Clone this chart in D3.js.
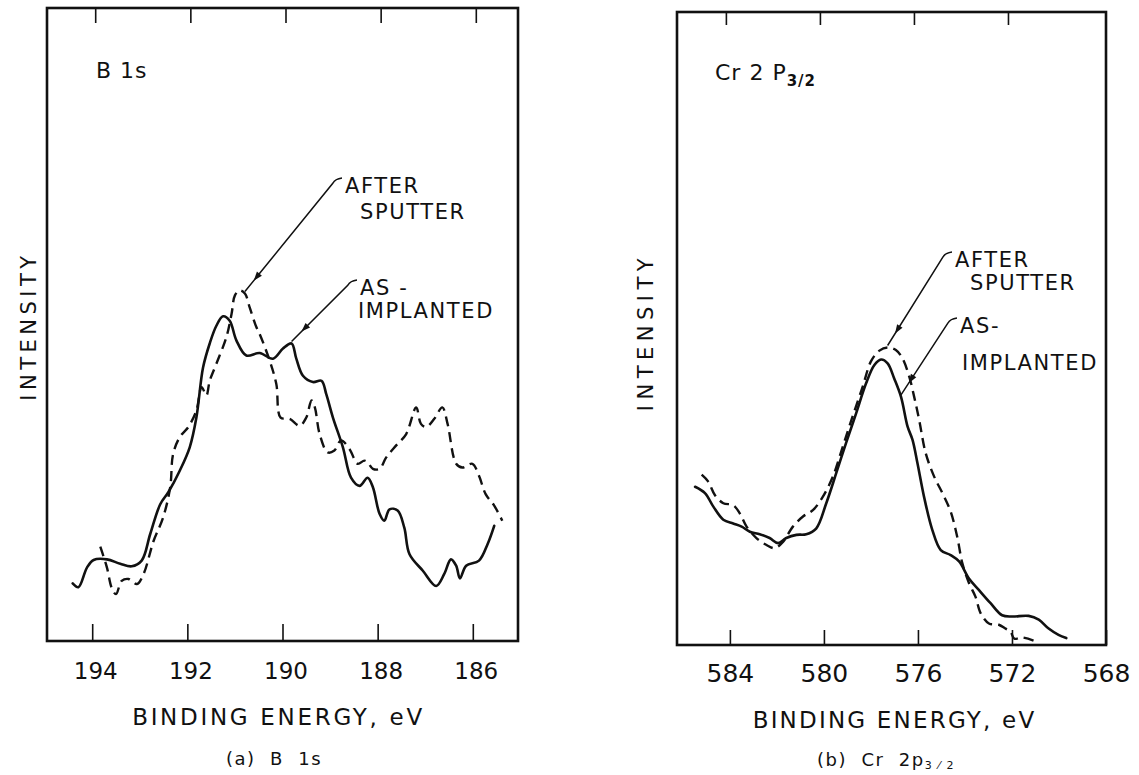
<!DOCTYPE html>
<html>
<head>
<meta charset="utf-8">
<script src="https://cdn.jsdelivr.net/npm/d3@7"></script>
<style>
    body { margin: 0; background: #fff; }
    svg { display: block; }
    text { font-family: "DejaVu Sans", sans-serif; fill: #111; white-space: pre; }
</style>
</head>
<body>
<svg id="chart" width="1139" height="775"></svg>
<script>

// spectra: [binding energy (eV), intensity (arb. units)]
const b1sAsImplanted = [
    [194.41, 9.1], [194.29, 8.5], [194.11, 11.6], [193.97, 12.8], [193.69, 12.9],
    [193.41, 12.2], [193.17, 11.8], [192.96, 12.7], [192.78, 16.9], [192.57, 21.6],
    [192.40, 23.5], [192.16, 26.9], [191.95, 30.6], [191.81, 35.3], [191.67, 43.2],
    [191.53, 47.0], [191.39, 49.8], [191.25, 51.3], [191.11, 50.6], [190.97, 47.5],
    [190.76, 45.1], [190.48, 45.5], [190.20, 44.6], [189.99, 46.2], [189.81, 47.0],
    [189.71, 44.6], [189.57, 41.9], [189.36, 40.9], [189.18, 41.1], [189.08, 39.0],
    [188.94, 35.3], [188.73, 30.6], [188.56, 25.8], [188.38, 24.5], [188.21, 25.8],
    [188.10, 24.3], [187.96, 20.1], [187.86, 19.0], [187.75, 20.8], [187.58, 20.6],
    [187.44, 17.9], [187.33, 13.7], [187.05, 11.1], [186.77, 8.7], [186.60, 10.6],
    [186.46, 12.9], [186.35, 11.9], [186.27, 9.9], [186.14, 11.9], [185.87, 12.7],
    [185.69, 15.3], [185.55, 18.2]
];

const b1sAfterSputter = [
    [193.83, 14.9], [193.69, 11.6], [193.59, 8.4], [193.50, 7.4], [193.38, 9.5],
    [193.24, 9.8], [193.06, 9.0], [192.92, 10.6], [192.71, 15.8], [192.51, 19.5],
    [192.36, 24.3], [192.30, 29.5], [192.16, 32.2], [191.98, 33.8], [191.81, 36.4],
    [191.70, 40.1], [191.60, 38.8], [191.53, 41.1], [191.39, 43.8], [191.18, 48.0],
    [191.07, 51.7], [191.00, 54.6], [190.90, 55.4], [190.79, 54.9], [190.69, 52.7],
    [190.55, 49.6], [190.48, 48.5], [190.27, 44.3], [190.13, 40.6], [190.04, 35.3],
    [189.85, 35.1], [189.64, 34.0], [189.50, 35.3], [189.39, 38.0], [189.32, 36.9],
    [189.22, 32.7], [189.05, 29.8], [188.91, 30.1], [188.77, 31.7], [188.59, 30.3],
    [188.42, 28.0], [188.28, 28.5], [188.21, 28.2], [188.10, 27.2], [187.96, 27.2],
    [187.82, 29.0], [187.61, 30.9], [187.40, 32.7], [187.19, 36.9], [187.09, 34.3],
    [186.98, 33.8], [186.81, 35.1], [186.64, 36.9], [186.53, 34.3], [186.35, 28.0],
    [186.22, 27.4], [186.01, 28.0], [185.87, 26.1], [185.73, 23.2], [185.55, 21.4],
    [185.38, 19.0]
];

const cr2pAsImplanted = [
    [585.48, 25.0], [585.06, 24.0], [584.71, 21.9], [584.28, 19.8], [583.86, 19.2],
    [583.50, 18.7], [583.15, 17.9], [582.73, 17.5], [582.31, 16.9], [581.95, 16.1],
    [581.60, 16.9], [581.17, 17.4], [580.75, 17.5], [580.33, 18.4], [579.90, 22.4],
    [579.48, 27.1], [579.06, 31.9], [578.63, 36.6], [578.21, 41.3], [577.86, 44.2],
    [577.57, 45.1], [577.29, 44.5], [577.01, 42.1], [576.72, 39.2], [576.44, 34.5],
    [576.23, 32.4], [576.02, 28.7], [575.74, 23.4], [575.39, 18.2], [575.03, 15.0],
    [574.61, 14.2], [574.25, 13.2], [573.83, 10.5], [573.41, 8.7], [572.91, 6.6],
    [572.42, 4.7], [572.00, 4.5], [571.29, 4.6], [570.86, 4.0], [570.44, 2.6],
    [570.02, 1.6], [569.69, 1.1]
];

const cr2pAfterSputter = [
    [585.20, 26.9], [584.92, 25.8], [584.64, 23.7], [584.28, 22.4], [583.86, 22.1],
    [583.58, 20.8], [583.29, 18.7], [582.87, 16.9], [582.44, 15.8], [582.09, 15.3],
    [581.74, 16.3], [581.32, 18.7], [580.89, 20.3], [580.47, 21.3], [580.05, 23.4],
    [579.62, 26.6], [579.20, 31.3], [578.78, 36.1], [578.35, 40.8], [578.00, 44.8],
    [577.64, 46.5], [577.29, 47.0], [576.94, 46.6], [576.66, 45.3], [576.37, 42.4],
    [576.16, 39.2], [575.95, 35.6], [575.67, 30.3], [575.31, 26.6], [574.96, 24.0],
    [574.61, 21.1], [574.33, 17.1], [574.11, 12.9], [573.83, 9.8], [573.55, 7.6],
    [573.33, 5.0], [572.98, 3.4], [572.56, 3.2], [572.28, 2.6], [572.06, 2.1],
    [571.90, 1.0], [571.58, 1.2], [571.08, 0.7]
];

const b1sTicks = [194, 192, 190, 188, 186];
const cr2pTicks = [584, 580, 576, 572, 568];


class SpectrumPanel {

    constructor(svg, opts) {

        this.svg = svg;
        this.opts = opts;
        this.g = svg.append("g");

    }

    setup() {
        this.computeScales();
        this.drawFrame();
        this.drawAxes();
        this.drawCurves();
        this.drawLabels();
        this.drawAnnotations();
    }

    computeScales() {

        var o = this.opts;

        this.x = d3.scaleLinear().domain(o.energyRange).range([o.left, o.right]);
        this.y = d3.scaleLinear().domain([0, 100]).range([o.bottom, o.top]);

    }

    drawFrame() {

        var o = this.opts;

        this.g.append("rect")
            .attr("x", o.left)
            .attr("y", o.top)
            .attr("width", o.right - o.left)
            .attr("height", o.bottom - o.top)
            .attr("fill", "none")
            .attr("stroke", "#111")
            .attr("stroke-width", 2.6);

    }

    drawAxes() {

        var o = this.opts;

        var bottom = this.g.append("g")
            .attr("transform", "translate(0," + o.bottom + ")")
            .call(d3.axisBottom(this.x)
                .tickValues(o.ticks)
                .tickFormat(d3.format("d"))
                .tickSizeInner(-o.tickLength)
                .tickSizeOuter(0)
                .tickPadding(o.labelPad));

        // top ticks sit a few pixels to the right of the bottom ones
        var top = this.g.append("g")
            .attr("transform", "translate(" + o.topShift + "," + o.top + ")")
            .call(d3.axisTop(this.x)
                .tickValues(o.ticks)
                .tickFormat("")
                .tickSizeInner(-(o.tickLength - 2))
                .tickSizeOuter(0));

        [bottom, top].forEach(function (axis) {
            axis.select(".domain").remove();
            axis.attr("font-family", null).attr("font-size", null);
            axis.selectAll(".tick line")
                .attr("stroke", "#111")
                .attr("stroke-width", 1.6);
        });

        top.selectAll(".tick")
            .filter(function (d) { return d === o.ticks[o.ticks.length - 1] && o.lastTickOnFrame; })
            .remove();

        bottom.selectAll(".tick text")
            .attr("font-size", o.tickFont)
            .attr("dx", o.labelShift)
            .attr("fill", "#111");

    }

    drawCurves() {

        var self = this;

        var line = d3.line()
            .x(function (d) { return self.x(d[0]); })
            .y(function (d) { return self.y(d[1]); })
            .curve(d3.curveCatmullRom.alpha(0.5));

        this.g.append("path")
            .datum(this.opts.asImplanted)
            .attr("d", line)
            .attr("fill", "none")
            .attr("stroke", "#111")
            .attr("stroke-width", 2.6)
            .attr("stroke-linejoin", "round")
            .attr("stroke-linecap", "round");

        this.g.append("path")
            .datum(this.opts.afterSputter)
            .attr("d", line)
            .attr("fill", "none")
            .attr("stroke", "#111")
            .attr("stroke-width", 2.4)
            .attr("stroke-dasharray", "10,6");

    }

    drawLabels() {

        var o = this.opts;
        var mid = (o.left + o.right) / 2;

        // panel title with optional subscript
        var title = this.g.append("text")
            .attr("x", o.titleX)
            .attr("y", o.titleY)
            .attr("font-size", 22)
            .attr("letter-spacing", 1);
        title.append("tspan").text(o.title);
        if (o.titleSub) {
            title.append("tspan")
                .attr("font-size", 15)
                .attr("font-weight", "bold")
                .attr("dy", 6)
                .text(o.titleSub);
        }

        // INTENSITY, rotated
        this.g.append("text")
            .attr("transform", "translate(" + o.yLabelX + "," + o.yLabelY + ") rotate(-90)")
            .attr("text-anchor", "middle")
            .attr("font-size", 21)
            .attr("letter-spacing", o.yLabelSpacing)
            .text("INTENSITY");

        this.g.append("text")
            .attr("x", mid + o.xLabelShift)
            .attr("y", o.xLabelY)
            .attr("text-anchor", "middle")
            .attr("font-size", 23)
            .attr("letter-spacing", o.xLabelSpacing)
            .text("BINDING ENERGY, eV");

        var cap = this.g.append("text")
            .attr("x", o.captionX)
            .attr("y", o.captionY)
            .attr("text-anchor", "middle")
            .attr("font-size", 18)
            .attr("letter-spacing", 1.5);
        cap.append("tspan").text(o.caption);
        if (o.captionSub) {
            cap.append("tspan")
                .attr("font-size", 11)
                .attr("dy", 3)
                .text(o.captionSub);
        }

    }

    drawAnnotations() {

        var self = this;

        this.opts.notes.forEach(function (note) {

            // point on the curve the leader points to
            var series = note.series === "dashed" ? self.opts.afterSputter : self.opts.asImplanted;
            var target = series.reduce(function (a, b) {
                return Math.abs(b[0] - note.energy) < Math.abs(a[0] - note.energy) ? b : a;
            });

            var tx = self.x(target[0]);
            var ty = self.y(target[1]) - 2;

            var hx = note.x - 12;
            var hy = note.y - 10;

            var path = d3.path();
            path.moveTo(note.x - 3, note.y - 15);
            path.quadraticCurveTo(hx + 2, hy - 4, hx, hy);
            path.lineTo(tx, ty);

            self.g.append("path")
                .attr("d", path.toString())
                .attr("fill", "none")
                .attr("stroke", "#111")
                .attr("stroke-width", 1.5);

            // arrow head along the leader
            var dx = tx - hx;
            var dy = ty - hy;
            var len = Math.sqrt(dx * dx + dy * dy);
            var ux = dx / len;
            var uy = dy / len;
            var ax = tx - ux * 14;
            var ay = ty - uy * 14;
            var head = [
                [ax, ay],
                [ax - ux * 9 - uy * 3.2, ay - uy * 9 + ux * 3.2],
                [ax - ux * 9 + uy * 3.2, ay - uy * 9 - ux * 3.2]
            ];

            self.g.append("path")
                .attr("d", d3.line()(head) + "Z")
                .attr("fill", "#111");

            note.lines.forEach(function (txt, i) {
                self.g.append("text")
                    .attr("x", note.x + (i === 0 ? 0 : note.indent))
                    .attr("y", note.y + i * note.gap)
                    .attr("font-size", 21)
                    .attr("letter-spacing", 1.6)
                    .text(txt);
            });

        });

    }

}


var svg = d3.select("#chart");

var left = new SpectrumPanel(svg, {
    left: 47, right: 518, top: 8, bottom: 641,
    energyRange: [194.95, 185.05],
    ticks: b1sTicks,
    tickLength: 17,
    topShift: 3,
    lastTickOnFrame: false,
    labelPad: 22,
    labelShift: 3,
    tickFont: 23,
    asImplanted: b1sAsImplanted,
    afterSputter: b1sAfterSputter,
    title: "B 1s", titleSub: null, titleX: 96, titleY: 78,
    yLabelX: 36, yLabelY: 326, yLabelSpacing: 4.5,
    xLabelShift: -4, xLabelY: 725, xLabelSpacing: 2.7,
    caption: "(a)  B  1s", captionSub: null, captionX: 274, captionY: 765,
    notes: [
        { lines: ["AFTER", "SPUTTER"], x: 345, y: 193, gap: 26, indent: 15, series: "dashed", energy: 190.79 },
        { lines: ["AS -", "IMPLANTED"], x: 360, y: 295, gap: 23, indent: -2, series: "solid", energy: 189.81 }
    ]
});
left.setup();

var right = new SpectrumPanel(svg, {
    left: 677, right: 1106, top: 12, bottom: 645,
    energyRange: [586.25, 568],
    ticks: cr2pTicks,
    tickLength: 15,
    topShift: -4,
    lastTickOnFrame: true,
    labelPad: 19,
    labelShift: 0,
    tickFont: 25,
    asImplanted: cr2pAsImplanted,
    afterSputter: cr2pAfterSputter,
    title: "Cr 2 P", titleSub: "3/2", titleX: 715, titleY: 80,
    yLabelX: 653, yLabelY: 332, yLabelSpacing: 5.5,
    xLabelShift: 3, xLabelY: 728, xLabelSpacing: 2.2,
    caption: "(b)  Cr  2p", captionSub: "3 \u2044 2", captionX: 886, captionY: 766,
    notes: [
        { lines: ["AFTER", "SPUTTER"], x: 955, y: 267, gap: 23, indent: 15, series: "dashed", energy: 577.29 },
        { lines: ["AS-", "IMPLANTED"], x: 960, y: 333, gap: 37, indent: 2, series: "solid", energy: 576.72 }
    ]
});
right.setup();

</script>
</body>
</html>
